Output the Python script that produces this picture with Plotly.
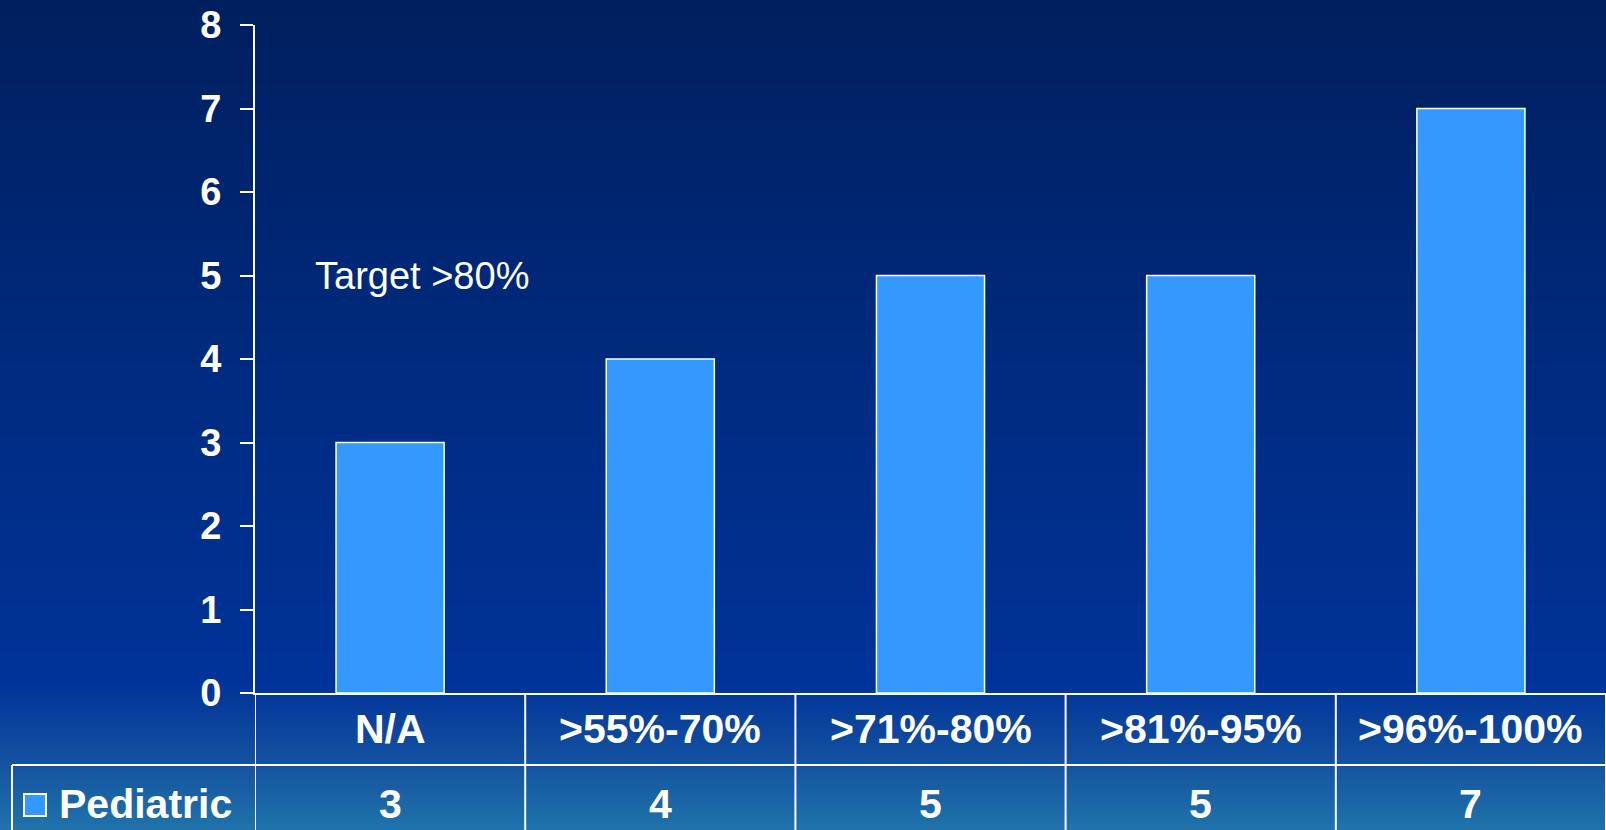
import plotly.graph_objects as go

# Data
categories = ["N/A", ">55%-70%", ">71%-80%", ">81%-95%", ">96%-100%"]
pediatric = [3, 4, 5, 5, 7]
series_name = "Pediatric"
y_ticks = [0, 1, 2, 3, 4, 5, 6, 7, 8]
note_text = "Target >80%"

W, H = 1606, 830
ML, MR, MT, MB = 255, 0, 25, 137
PLOT_W = W - ML - MR
PLOT_H = H - MT - MB
Y0_PX = H - MB  # pixel row of the x axis


def py(px):
    """Pixel row -> paper y."""
    return (Y0_PX - px) / PLOT_H


def pxx(px):
    """Pixel column -> paper x."""
    return (px - ML) / PLOT_W


def hex2rgb(h):
    h = h.lstrip("#")
    return tuple(int(h[i:i + 2], 16) for i in (0, 2, 4))


# Vertical background gradient (pixel row, colour)
stops = [(0, "#001f5e"), (380, "#002b80"), (683, "#003399"), (765, "#1553a0"), (830, "#1f74aa")]


def grad(ypx):
    for (a, ca), (b, cb) in zip(stops[:-1], stops[1:]):
        if a <= ypx <= b:
            t = (ypx - a) / (b - a)
            ra, rb = hex2rgb(ca), hex2rgb(cb)
            return "rgb(%d,%d,%d)" % tuple(round(ra[i] + (rb[i] - ra[i]) * t) for i in range(3))
    return stops[-1][1]


shapes = []
step = 2
for y in range(0, H, step):
    shapes.append(dict(type="rect", xref="paper", yref="paper",
                       x0=pxx(-2), x1=pxx(W + 2), y0=py(y + step + 1), y1=py(y),
                       fillcolor=grad(y + step / 2), line=dict(width=0), layer="below"))

WHITE = "white"
n = len(categories)
row_sep = py(765)
bottom = py(H + 2)

# Data table grid
for i in range(n + 1):
    shapes.append(dict(type="line", xref="x", yref="paper", x0=i - 0.5, x1=i - 0.5,
                       y0=0, y1=bottom, line=dict(color=WHITE, width=2)))
shapes.append(dict(type="line", xref="paper", yref="paper", x0=pxx(12), x1=pxx(W + 2),
                   y0=row_sep, y1=row_sep, line=dict(color=WHITE, width=2)))
shapes.append(dict(type="line", xref="paper", yref="paper", x0=pxx(12), x1=pxx(12),
                   y0=row_sep, y1=bottom, line=dict(color=WHITE, width=2)))
# Legend key
shapes.append(dict(type="rect", xref="paper", yref="paper", x0=pxx(24), x1=pxx(46),
                   y0=py(816), y1=py(794), fillcolor="#3399ff", line=dict(color=WHITE, width=2)))

FAMILY = "Liberation Sans, Arial, sans-serif"
tick_font = dict(family=FAMILY, size=38, color=WHITE, weight="bold")
table_font = dict(family=FAMILY, size=41, color=WHITE, weight="bold")

annotations = []
for i, (c, v) in enumerate(zip(categories, pediatric)):
    annotations.append(dict(x=i, xref="x", y=py(729), yref="paper", text=c, showarrow=False,
                            font=table_font, xanchor="center", yanchor="middle"))
    annotations.append(dict(x=i, xref="x", y=py(804), yref="paper", text=str(v), showarrow=False,
                            font=table_font, xanchor="center", yanchor="middle"))
annotations.append(dict(x=pxx(57), xref="paper", y=py(804), yref="paper", text=series_name,
                        showarrow=False, font=table_font, xanchor="left", yanchor="middle"))
annotations.append(dict(x=pxx(313), xref="paper", y=5, yref="y", text=note_text, showarrow=False,
                        font=dict(family=FAMILY, size=38, color=WHITE),
                        xanchor="left", yanchor="middle"))

fig = go.Figure(go.Bar(x=categories, y=pediatric, width=0.4, name=series_name,
                       marker=dict(color="#3399ff", line=dict(color=WHITE, width=1.5))))

fig.update_layout(
    width=W, height=H,
    margin=dict(l=ML, r=MR, t=MT, b=MB, pad=0),
    paper_bgcolor="#002a80", plot_bgcolor="rgba(0,0,0,0)",
    showlegend=False, bargap=0.6,
    shapes=shapes, annotations=annotations,
    xaxis=dict(showticklabels=False, ticks="", showgrid=False, zeroline=False,
               showline=True, linecolor=WHITE, linewidth=2, range=[-0.5, n - 0.5]),
    yaxis=dict(range=[0, 8], tickvals=y_ticks, ticks="outside", ticklen=13, tickwidth=2,
               tickcolor=WHITE, showline=True, linecolor=WHITE, linewidth=2,
               showgrid=False, zeroline=False, tickfont=tick_font, ticklabelstandoff=11),
)

fig.write_html("out.html")
